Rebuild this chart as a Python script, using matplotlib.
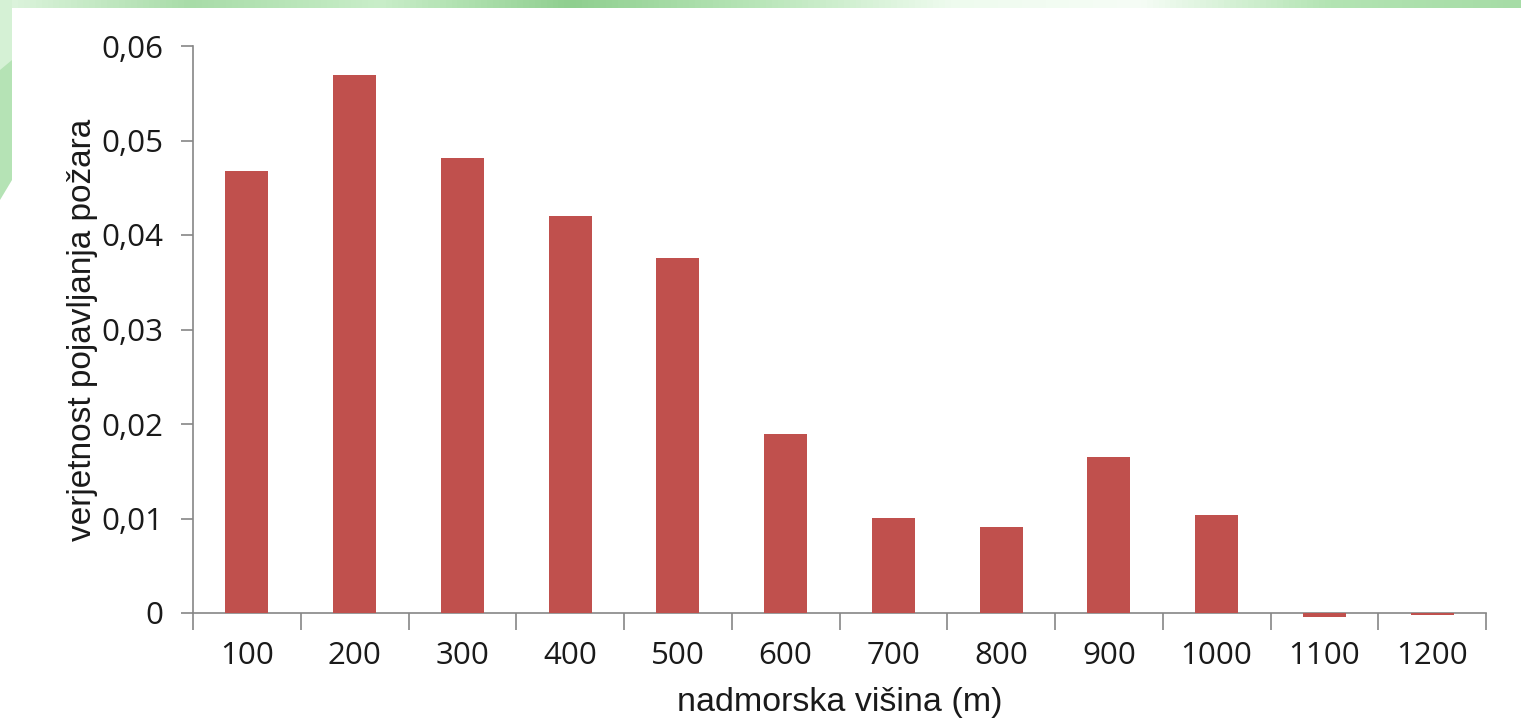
import matplotlib
matplotlib.use("Agg")
import matplotlib.pyplot as plt
from matplotlib.patches import Polygon
from matplotlib.colors import LinearSegmentedColormap
import numpy as np

# Data
categories = ["100", "200", "300", "400", "500", "600", "700", "800", "900", "1000", "1100", "1200"]
values = [0.0468, 0.0569, 0.0481, 0.0420, 0.0376, 0.0189, 0.0101, 0.0091, 0.0165, 0.0104, -0.0004, -0.0002]
yticks = [0, 0.01, 0.02, 0.03, 0.04, 0.05, 0.06]
ytick_labels = ["0", "0,01", "0,02", "0,03", "0,04", "0,05", "0,06"]

W, H = 1521, 724
fig = plt.figure(figsize=(W / 100, H / 100), dpi=100)
fig.patch.set_facecolor("white")

# Green slide decoration along the top edge and upper-left corner
bg = fig.add_axes([0, 0, 1, 1], zorder=-10)
bg.set_xlim(0, W)
bg.set_ylim(H, 0)
bg.axis("off")
grad = np.linspace(0, 1, 256).reshape(1, -1)
cmap = LinearSegmentedColormap.from_list(
    "band", ["#dff5df", "#a8dca8", "#c9eec9", "#8fcf8f", "#b9e6b9", "#eefbee", "#f6fdf6", "#b3e4b3", "#a6dca6"])
bg.imshow(grad, aspect="auto", cmap=cmap, extent=[0, W, 8, 0])
bg.add_patch(Polygon([[0, 0], [12, 0], [12, 180], [0, 200]], closed=True,
                     facecolor="#b5e3b5", edgecolor="none"))
bg.add_patch(Polygon([[0, 0], [12, 0], [12, 60], [0, 70]], closed=True,
                     facecolor="#d5f1d5", edgecolor="none"))

ax = fig.add_axes([193 / W, 1 - 613 / H, (1486 - 193) / W, (613 - 46) / H])
ax.set_facecolor("none")
x = np.arange(len(categories))
ax.bar(x, values, width=0.4, color="#C0504D", clip_on=False, zorder=3)

ax.set_xlim(-0.5, len(categories) - 0.5)
ax.set_ylim(0, 0.06)

axis_gray = "#868686"
for side in ("top", "right"):
    ax.spines[side].set_visible(False)
for side in ("left", "bottom"):
    ax.spines[side].set_color(axis_gray)
    ax.spines[side].set_linewidth(1.2)

font = "Open Sans"
label_font = "Liberation Sans"
text_color = "#1a1a1a"
ax.set_yticks(yticks)
ax.set_yticklabels(ytick_labels, fontsize=22.5, family=font, color=text_color)
ax.tick_params(axis="y", length=9, width=1.2, color=axis_gray, pad=12)

ax.set_xticks(x)
ax.set_xticklabels(categories, fontsize=22.5, family=font, color=text_color)
ax.tick_params(axis="x", which="major", length=0, pad=20)
ax.set_xticks(np.arange(len(categories) + 1) - 0.5, minor=True)
ax.tick_params(axis="x", which="minor", length=12, width=1.2, color=axis_gray)

ax.set_xlabel("nadmorska višina (m)", fontsize=24.5, family=label_font, color=text_color, labelpad=12)
ax.set_ylabel("verjetnost pojavljanja požara", fontsize=24, family=label_font, color=text_color, labelpad=3)

fig.savefig("out.png", dpi=100)
